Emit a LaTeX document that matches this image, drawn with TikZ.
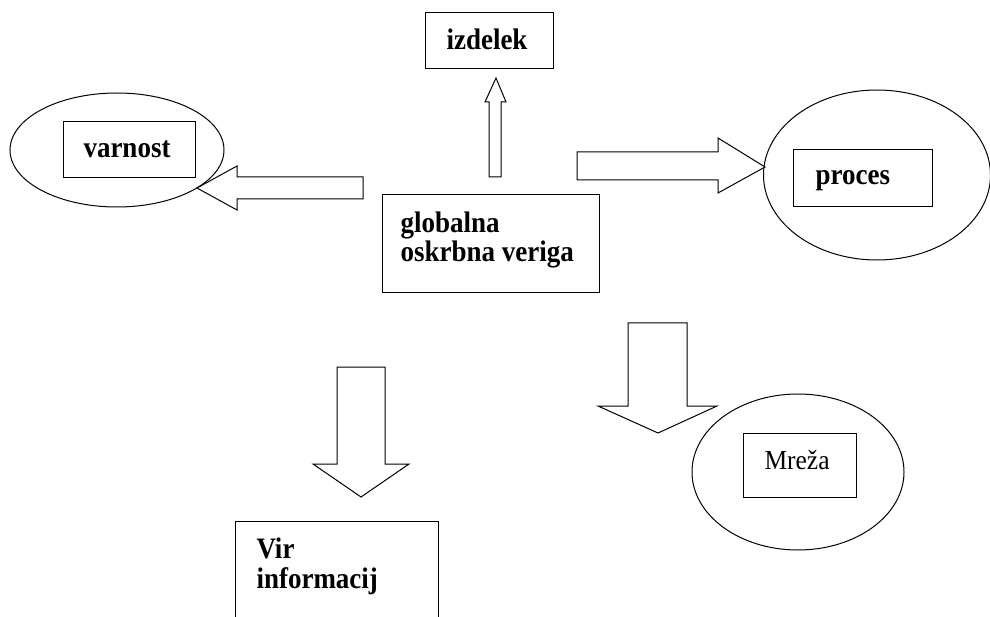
\documentclass[tikz,border=0pt]{standalone}
\usepackage{fontspec}
\setmainfont{Liberation Serif}
\usetikzlibrary{shapes.geometric}
\newcommand{\tallb}[1]{\scalebox{1}[1.1]{\fontsize{27}{29}\selectfont\bfseries #1}}
\newcommand{\tallr}[1]{\scalebox{1}[1.08]{\fontsize{25.5}{28}\selectfont #1}}
\begin{document}
\begin{tikzpicture}[x=1pt,y=-1pt,line width=1pt,
  box/.style={draw,inner sep=0pt},
  oval/.style={draw,ellipse,inner sep=0pt},
  lbl/.style={anchor=base west,inner sep=0pt},
  blockarrow/.style={draw,line join=miter,fill=white}]
\useasboundingbox (0,0) rectangle (990,617);
\clip (0,0) rectangle (990,617);
% ellipses
\node[oval,minimum width=214pt,minimum height=114pt] (varE) at (117,150) {};
\node[oval,minimum width=227pt,minimum height=170pt] (proE) at (877,175) {};
\node[oval,minimum width=212pt,minimum height=156pt] (mreE) at (798,472) {};
% boxes
\node[box,minimum width=132pt,minimum height=56pt] (varB) at (129,150) {};
\node[box,minimum width=128pt,minimum height=56pt] (izdB) at (489,41) {};
\node[box,minimum width=217pt,minimum height=98pt] (gloB) at (490.5,244) {};
\node[box,minimum width=139pt,minimum height=57pt] (proB) at (862.5,178.5) {};
\node[box,minimum width=113pt,minimum height=64pt] (mreB) at (799.5,465) {};
\node[box,minimum width=203pt,minimum height=130pt] (virB) at (336.5,586) {};
% texts
\node[lbl] (tvar) at (83,158) {\tallb{varnost}};
\node[lbl] (tizd) at (446,50) {\tallb{izdelek}};
\node[lbl] (tglo1) at (400,233) {\tallb{globalna}};
\node[lbl] (tglo2) at (400,262) {\tallb{oskrbna veriga}};
\node[lbl] (tpro) at (815,185) {\tallb{proces}};
\node[lbl] (tmre) at (764,469) {\tallr{Mreža}};
\node[lbl] (tvir1) at (256,558) {\tallb{Vir}};
\node[lbl] (tvir2) at (256,588) {\tallb{informacij}};
% block arrows
\draw[blockarrow] (197,188) -- (237,166) -- (237,177) -- (363,177) -- (363,199) -- (237,199) -- (237,210) -- cycle;
\draw[blockarrow] (496,78) -- (506,102) -- (501,102) -- (501,177) -- (489,177) -- (489,102) -- (485,102) -- cycle;
\draw[blockarrow] (577,152) -- (718,152) -- (718,138) -- (765,167) -- (718,193) -- (718,180) -- (577,180) -- cycle;
\draw[blockarrow] (337,367) -- (385,367) -- (385,464) -- (409,464) -- (361,497) -- (313,464) -- (337,464) -- cycle;
\draw[blockarrow] (628,323) -- (687,323) -- (687,406) -- (717,406) -- (658,433) -- (598,406) -- (628,406) -- cycle;
\end{tikzpicture}
\end{document}
